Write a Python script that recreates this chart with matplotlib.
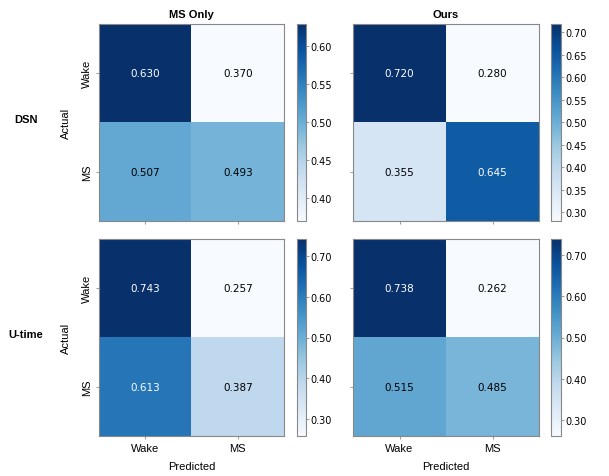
import matplotlib
matplotlib.use("Agg")
import matplotlib.pyplot as plt
import numpy as np
from matplotlib.ticker import FormatStrFormatter

# Confusion matrices (rows: actual, cols: predicted)
labels = ["Wake", "MS"]
models = ["DSN", "U-time"]
methods = ["MS Only", "Ours"]
dsn_ms_only = [[0.630, 0.370], [0.507, 0.493]]
dsn_ours = [[0.720, 0.280], [0.355, 0.645]]
utime_ms_only = [[0.743, 0.257], [0.613, 0.387]]
utime_ours = [[0.738, 0.262], [0.515, 0.485]]
matrices = [[dsn_ms_only, dsn_ours], [utime_ms_only, utime_ours]]

cbar_ticks = [[[0.40, 0.45, 0.50, 0.55, 0.60],
               [0.30, 0.35, 0.40, 0.45, 0.50, 0.55, 0.60, 0.65, 0.70]],
              [[0.30, 0.40, 0.50, 0.60, 0.70],
               [0.30, 0.40, 0.50, 0.60, 0.70]]]

W, H = 609, 477
fig = plt.figure(figsize=(W / 100, H / 100), dpi=100)

spine_col = "#888888"
txt_font = "Liberation Sans"

col_x = [(99, 284, 297, 306), (353, 539, 551, 561)]
row_y = [(24.5, 222), (240, 437)]

for r in range(2):
    for c in range(2):
        x0, x1, cx0, cx1 = col_x[c]
        y0, y1 = row_y[r]
        ax = fig.add_axes([x0 / W, 1 - y1 / H, (x1 - x0) / W, (y1 - y0) / H])
        cax = fig.add_axes([cx0 / W, 1 - y1 / H, (cx1 - cx0) / W, (y1 - y0) / H])
        m = np.array(matrices[r][c])
        im = ax.imshow(m, cmap="Blues", aspect="auto", interpolation="nearest")
        for i in range(2):
            for j in range(2):
                ax.text(j, i, f"{m[i, j]:.3f}", ha="center", va="center", fontsize=7.5,
                        color="white" if m[i, j] > 0.55 else "black")
        ax.set_xticks(range(2))
        ax.set_yticks(range(2))
        if r == 1:
            ax.set_xticklabels(labels, fontsize=8, family=txt_font)
            ax.set_xlabel("Predicted", fontsize=8, family=txt_font, labelpad=6)
        else:
            ax.set_xticklabels([])
            ax.set_title(methods[c], fontsize=8, fontweight="bold", family=txt_font, pad=5)
        if c == 0:
            ax.set_yticklabels(labels, fontsize=8, family=txt_font, rotation=90, va="center")
            ax.set_ylabel("Actual", fontsize=8, family=txt_font, labelpad=8)
        else:
            ax.set_yticklabels([])
        ax.tick_params(length=2, width=0.6, color=spine_col, pad=3)
        for s in ax.spines.values():
            s.set_color(spine_col)
            s.set_linewidth(0.8)

        cb = fig.colorbar(im, cax=cax)
        cb.set_ticks(cbar_ticks[r][c])
        cb.ax.yaxis.set_major_formatter(FormatStrFormatter("%.2f"))
        cb.ax.tick_params(labelsize=7, length=2, width=0.6, color=spine_col, pad=1)
        cb.outline.set_edgecolor(spine_col)
        cb.outline.set_linewidth(0.8)

    fig.text(26 / W, 1 - ((row_y[r][0] + row_y[r][1]) / 2 - 3) / H, models[r],
             ha="center", va="center", fontsize=8, fontweight="bold", family=txt_font)

fig.savefig("out.png", dpi=100)
